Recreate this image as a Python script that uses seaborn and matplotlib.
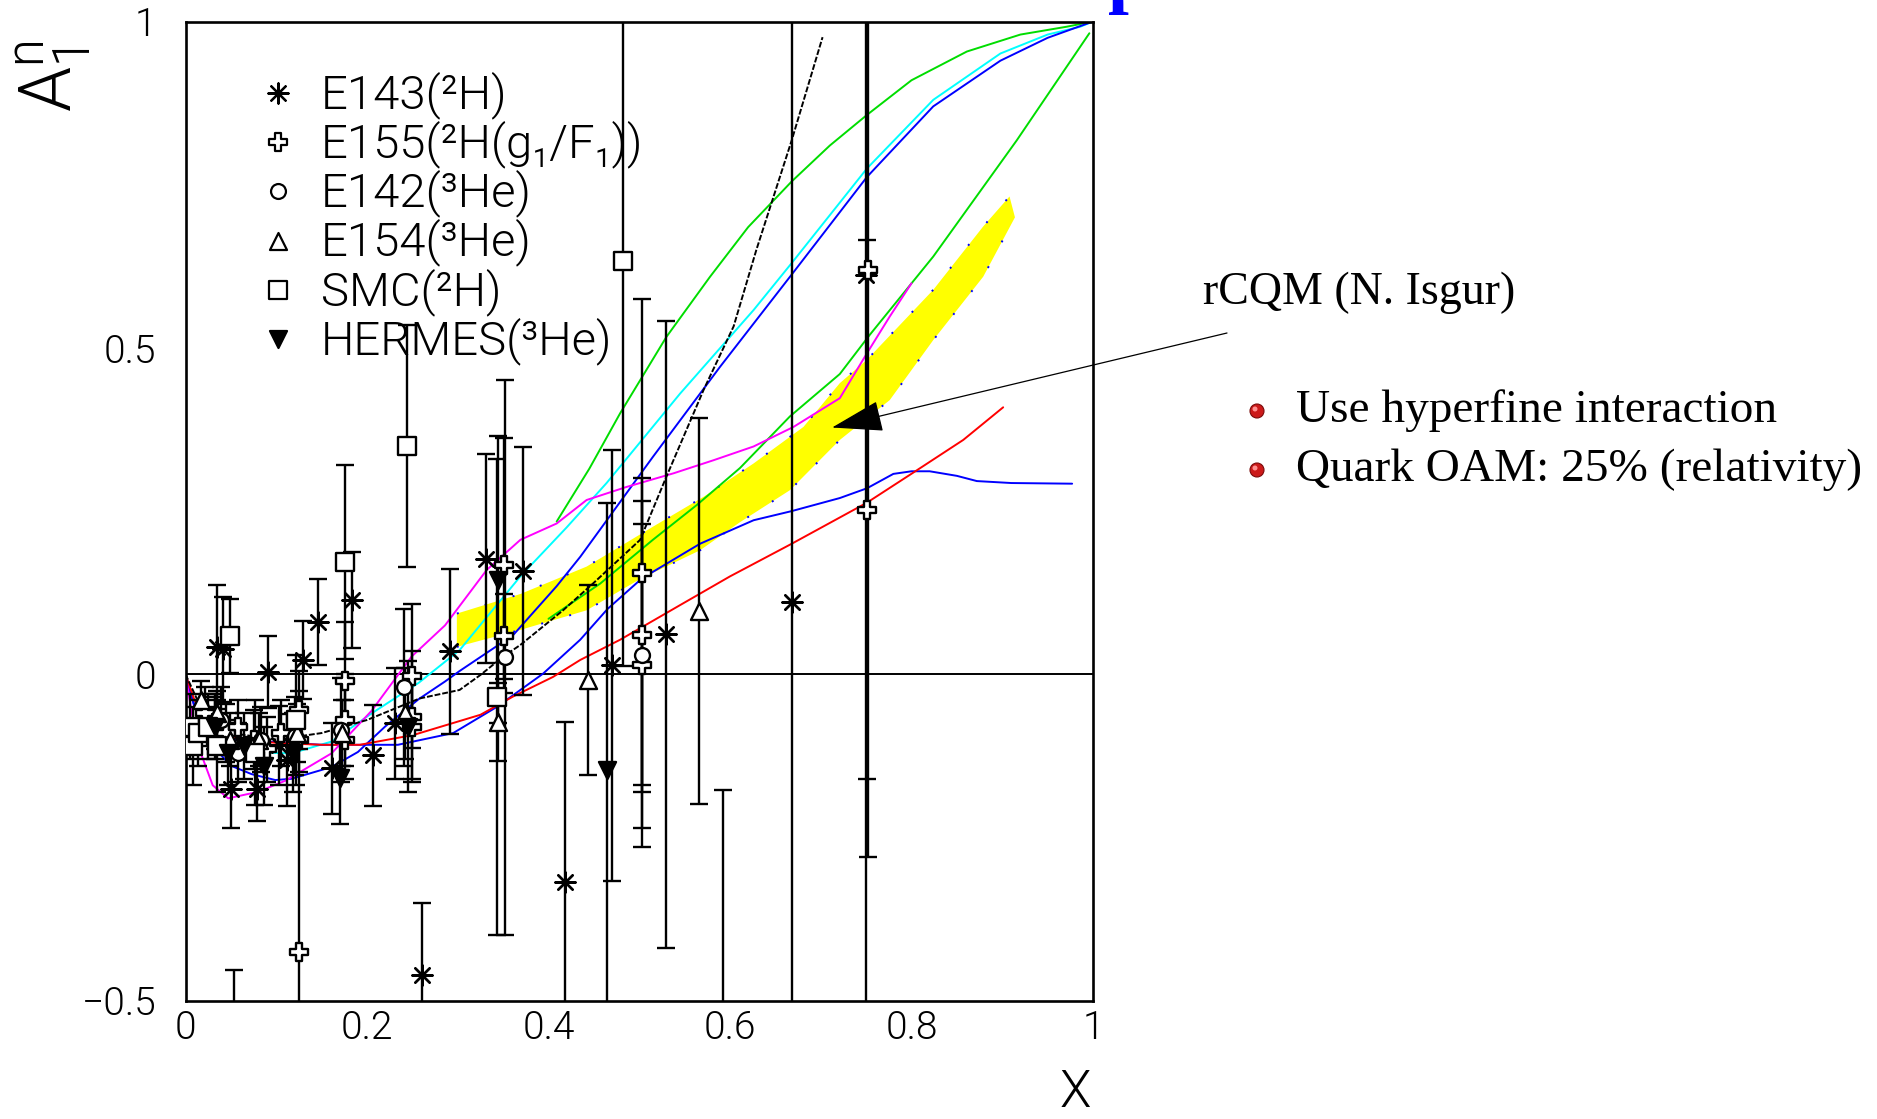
import numpy as np
import matplotlib
matplotlib.use("Agg")
import matplotlib.pyplot as plt
from matplotlib import font_manager
from matplotlib.font_manager import FontProperties
from matplotlib.patches import Ellipse
from matplotlib.ticker import MultipleLocator, FuncFormatter
import seaborn as sns

# ---------------------------------------------------------------- data
# E143 (2H)
e143_x = [0.035, 0.041, 0.050, 0.079, 0.091, 0.103, 0.112, 0.130, 0.146, 0.161, 0.184, 0.207,
          0.231, 0.261, 0.291, 0.331, 0.372, 0.418, 0.470, 0.529, 0.592, 0.668, 0.7495]
e143_y = [0.042, 0.038, -0.175, -0.175, 0.003, -0.109, -0.131, 0.022, 0.080, -0.144, 0.114, -0.124,
          -0.075, -0.461, 0.035, 0.177, 0.158, -0.318, 0.014, 0.061, -0.75, 0.111, 0.612]
e143_e = [0.095, 0.08, 0.06, 0.05, 0.055, 0.06, 0.07, 0.06, 0.066, 0.07, 0.074, 0.077,
          0.085, 0.11, 0.127, 0.16, 0.19, 0.245, 0.33, 0.48, 0.573, 1.5, 1.2]

# E155 (2H, g1/F1)
e155_x = [0.022, 0.032, 0.045, 0.053, 0.058, 0.075, 0.090, 0.105, 0.125, 0.125, 0.125, 0.176, 0.176,
          0.176, 0.250, 0.250, 0.250, 0.351, 0.351, 0.503, 0.503, 0.503, 0.751, 0.7525]
e155_y = [-0.06, -0.075, -0.09, -0.62, -0.08, -0.10, -0.115, -0.09, -0.425, -0.055, -0.10, -0.01, -0.07,
          -0.10, -0.003, -0.065, -0.08, 0.167, 0.058, 0.155, 0.06, 0.015, 0.252, 0.62]
e155_e = [0.04, 0.04, 0.045, 0.167, 0.04, 0.045, 0.05, 0.05, 0.40, 0.06, 0.05, 0.09, 0.07,
          0.06, 0.11, 0.10, 0.08, 0.195, 0.065, 0.42, 0.24, 0.25, 0.413, 0.9]

# E142 (3He)
e142_x = [0.039, 0.058, 0.083, 0.121, 0.171, 0.241, 0.352, 0.503]
e142_y = [-0.07, -0.12, -0.10, -0.095, -0.085, -0.02, 0.026, 0.03]
e142_e = [0.05, 0.045, 0.05, 0.06, 0.08, 0.12, 0.425, 0.20]

# E154 (3He)
e154_x = [0.017, 0.024, 0.035, 0.049, 0.081, 0.123, 0.173, 0.242, 0.344, 0.443, 0.566]
e154_y = [-0.04, -0.08, -0.06, -0.10, -0.10, -0.09, -0.09, -0.06, -0.073, -0.009, 0.097]
e154_e = [0.03, 0.03, 0.035, 0.04, 0.04, 0.045, 0.05, 0.07, 0.06, 0.146, 0.295]

# SMC (2H)
smc_x = [0.005, 0.008, 0.014, 0.025, 0.035, 0.049, 0.077, 0.122, 0.176, 0.244, 0.343, 0.482]
smc_y = [-0.08, -0.11, -0.09, -0.08, -0.11, 0.059, -0.12, -0.07, 0.172, 0.35, -0.035, 0.633]
smc_e = [0.05, 0.06, 0.05, 0.05, 0.07, 0.057, 0.08, 0.10, 0.148, 0.185, 0.365, 0.62]

# HERMES (3He)
hermes_x = [0.033, 0.047, 0.065, 0.087, 0.119, 0.170, 0.245, 0.344, 0.464]
hermes_y = [-0.08, -0.12, -0.11, -0.14, -0.12, -0.159, -0.08, 0.145, -0.147]
hermes_e = [0.05, 0.05, 0.05, 0.06, 0.06, 0.07, 0.10, 0.22, 0.41]

# model curves
green_hi_x = [0.409, 0.445, 0.479, 0.530, 0.578, 0.620, 0.668, 0.710, 0.751, 0.800, 0.861, 0.920, 0.971, 1.0]
green_hi_y = [0.234, 0.315, 0.400, 0.517, 0.609, 0.685, 0.755, 0.810, 0.857, 0.910, 0.954, 0.980, 0.992, 1.0]
green_lo_x = [0.400, 0.457, 0.515, 0.564, 0.611, 0.666, 0.721, 0.754, 0.824, 0.916, 0.996]
green_lo_y = [0.085, 0.139, 0.206, 0.260, 0.316, 0.395, 0.460, 0.520, 0.640, 0.818, 0.982]
cyan_x = [0.0, 0.010, 0.025, 0.050, 0.080, 0.117, 0.161, 0.205, 0.257, 0.302, 0.369, 0.420, 0.464,
          0.545, 0.626, 0.668, 0.751, 0.824, 0.898, 0.950, 0.986, 1.0]
cyan_y = [0.0, -0.045, -0.085, -0.110, -0.120, -0.121, -0.103, -0.060, -0.013, 0.037, 0.150, 0.225, 0.293,
          0.430, 0.558, 0.630, 0.775, 0.880, 0.951, 0.980, 0.992, 1.0]
blue_hi_x = [0.0, 0.010, 0.030, 0.050, 0.073, 0.099, 0.117, 0.161, 0.190, 0.220, 0.257, 0.286, 0.302,
             0.361, 0.409, 0.435, 0.515, 0.589, 0.670, 0.751, 0.824, 0.898, 0.950, 1.0]
blue_hi_y = [0.0, -0.050, -0.110, -0.140, -0.153, -0.162, -0.160, -0.142, -0.119, -0.080, -0.038, -0.011,
             0.005, 0.060, 0.135, 0.180, 0.333, 0.471, 0.616, 0.762, 0.870, 0.940, 0.975, 1.0]
blue_lo_x = [0.0, 0.010, 0.030, 0.044, 0.090, 0.150, 0.234, 0.295, 0.343, 0.394, 0.435, 0.465, 0.503,
             0.567, 0.626, 0.668, 0.721, 0.751, 0.780, 0.800, 0.820, 0.850, 0.872, 0.910, 0.977]
blue_lo_y = [0.0, -0.050, -0.090, -0.100, -0.103, -0.108, -0.108, -0.090, -0.050, 0.001, 0.053, 0.100,
             0.147, 0.200, 0.236, 0.250, 0.270, 0.285, 0.307, 0.311, 0.311, 0.304, 0.296, 0.293, 0.292]
red_x = [0.0, 0.010, 0.030, 0.060, 0.100, 0.150, 0.192, 0.251, 0.325, 0.361, 0.405, 0.435, 0.479,
         0.545, 0.600, 0.668, 0.751, 0.802, 0.857, 0.901]
red_y = [0.0, -0.040, -0.080, -0.100, -0.105, -0.108, -0.108, -0.093, -0.062, -0.034, -0.004, 0.022, 0.053,
         0.106, 0.150, 0.200, 0.263, 0.309, 0.359, 0.409]
magenta_x = [0.0, 0.007, 0.014, 0.030, 0.047, 0.080, 0.110, 0.161, 0.205, 0.249, 0.286, 0.332, 0.369,
             0.409, 0.442, 0.486, 0.538, 0.582, 0.626, 0.670, 0.721, 0.751, 0.776, 0.800]
magenta_y = [0.0, -0.060, -0.110, -0.170, -0.190, -0.180, -0.163, -0.121, -0.056, 0.027, 0.075, 0.160, 0.206,
             0.231, 0.267, 0.287, 0.308, 0.328, 0.349, 0.379, 0.423, 0.492, 0.548, 0.599]
black_x = [0.0, 0.020, 0.050, 0.100, 0.150, 0.200, 0.258, 0.302, 0.325, 0.350, 0.369, 0.416, 0.449,
           0.501, 0.530, 0.571, 0.604, 0.629, 0.668, 0.702]
black_y = [0.0, -0.060, -0.090, -0.100, -0.090, -0.070, -0.037, -0.024, -0.001, 0.027, 0.045, 0.098, 0.139,
           0.206, 0.303, 0.436, 0.533, 0.650, 0.818, 0.976]

# rCQM band (upper and lower edges)
band_hi_x = [0.299, 0.369, 0.442, 0.515, 0.571, 0.626, 0.681, 0.721, 0.751, 0.824, 0.879, 0.908]
band_hi_y = [0.093, 0.123, 0.165, 0.226, 0.272, 0.323, 0.379, 0.446, 0.482, 0.589, 0.686, 0.732]
band_lo_x = [0.299, 0.369, 0.442, 0.501, 0.567, 0.611, 0.666, 0.721, 0.776, 0.824, 0.879, 0.914]
band_lo_y = [0.042, 0.068, 0.098, 0.146, 0.190, 0.233, 0.282, 0.359, 0.420, 0.512, 0.609, 0.700]

x_ticks = [0, 0.2, 0.4, 0.6, 0.8, 1]
y_ticks = [-0.5, 0, 0.5, 1]

key_labels = ["E143(²H)", "E155(²H(g₁/F₁))", "E142(³He)",
              "E154(³He)", "SMC(²H)", "HERMES(³He)"]

# ---------------------------------------------------------------- style
sns.set_theme(style="white")


def light_face(prefs):
    """First preferred family that ships a light weight, else plain Liberation Sans."""
    for fam in prefs:
        for f in font_manager.fontManager.ttflist:
            w = f.weight if isinstance(f.weight, int) else {"light": 300, "extra light": 200,
                                                              "ultralight": 200}.get(str(f.weight), 400)
            if f.name == fam and 200 <= w <= 300 and f.style == "normal":
                return fam, 300
    return "Liberation Sans", "normal"


thin_family, thin_weight = light_face(["Roboto", "Open Sans", "Lato", "Inter", "Noto Sans"])
plt.rcParams["font.family"] = [thin_family, "DejaVu Sans"]
plt.rcParams["font.weight"] = thin_weight
plt.rcParams["mathtext.fontset"] = "custom"
plt.rcParams["mathtext.rm"] = f"{thin_family}:weight={thin_weight}"
plt.rcParams["mathtext.it"] = f"{thin_family}:weight={thin_weight}"
plt.rcParams["axes.unicode_minus"] = True

W, H = 1877, 1119
fig = plt.figure(figsize=(W / 100, H / 100), dpi=100)
ax = fig.add_axes([185.5 / W, 1 - 1000.7 / H, 907.5 / W, 979.2 / H])
ax.set_facecolor("white")
ax.set_xlim(0, 1)
ax.set_ylim(-0.5, 1)

# band
ax.fill(np.concatenate([band_hi_x, band_lo_x[::-1]]),
        np.concatenate([band_hi_y, band_lo_y[::-1]]),
        color="#ffff00", lw=0, zorder=1)
for bx, by in ((band_hi_x, band_hi_y), (band_lo_x, band_lo_y)):
    ax.plot(bx, by, color="#0000ff", lw=1.4, ls=(0, (1, 14)), zorder=1.1)

ax.axhline(0, color="black", lw=1.4, zorder=1.5)

curves = [
    (green_hi_x, green_hi_y, "#00dd00", "-"),
    (green_lo_x, green_lo_y, "#00dd00", "-"),
    (cyan_x, cyan_y, "#00ffff", "-"),
    (blue_hi_x, blue_hi_y, "#0000ff", "-"),
    (blue_lo_x, blue_lo_y, "#0000ff", "-"),
    (red_x, red_y, "#ff0000", "-"),
    (magenta_x, magenta_y, "#ff00ff", "-"),
    (black_x, black_y, "black", (0, (3, 1))),
]
for cx, cy, col, ls in curves:
    sns.lineplot(x=cx, y=cy, ax=ax, color=col, lw=1.4, linestyle=ls,
                 sort=False, estimator=None, zorder=2)

sets = [
    (e143_x, e143_y, e143_e, (8, 2, 0), "black", 210),
    (e155_x, e155_y, e155_e, "P", "white", 170),
    (e142_x, e142_y, e142_e, "o", "white", 115),
    (e154_x, e154_y, e154_e, "^", "white", 150),
    (smc_x, smc_y, smc_e, "s", "white", 150),
    (hermes_x, hermes_y, hermes_e, "v", "black", 150),
]
for sx, sy, se, mk, fc, size in sets:
    ax.errorbar(sx, sy, yerr=se, fmt="none", ecolor="black", elinewidth=1.7,
                capsize=6.5, capthick=1.7, zorder=3)
    sns.scatterplot(x=sx, y=sy, ax=ax, marker=mk, s=size, facecolor=fc,
                    edgecolor="black", linewidth=1.7, zorder=4)

# key: symbols in a column, labels as one multi-line block with matching row pitch
row_px = 49.2
first_row_px = 93.0
key_fs = 34
for i, (sx, sy, se, mk, fc, size) in enumerate(sets):
    yk = 1 - (first_row_px + i * row_px) / H
    ax.scatter([278 / W], [yk], transform=fig.transFigure, marker=mk, s=size,
               facecolor=fc, edgecolor="black", linewidth=1.6, zorder=0.5, clip_on=False)

kfp = FontProperties(family=[thin_family, "DejaVu Sans"], weight=thin_weight, size=key_fs)
mid_px = first_row_px + 2.5 * row_px + 2
key_txt = ax.text(321 / W, 1 - mid_px / H, "\n".join(key_labels), transform=fig.transFigure,
                  va="center", ha="left", multialignment="left", linespacing=1.0,
                  fontproperties=kfp, color="black", zorder=0.5)
# pitch between baselines = descent of the line above + linespacing * (height - descent)
renderer = fig.canvas.get_renderer()
_, lp_h, lp_d = renderer.get_text_width_height_descent("lp", kfp, ismath=False)
_, t_h, t_d = renderer.get_text_width_height_descent(key_labels[0], kfp, ismath=False)
line_d = max(t_d, lp_d)
key_txt.set_linespacing(1.0)
h_a = key_txt.get_window_extent(renderer).height
key_txt.set_linespacing(2.0)
h_b = key_txt.get_window_extent(renderer).height
pitch_per_unit = (h_b - h_a) / (len(key_labels) - 1)
key_txt.set_linespacing((row_px - line_d) / pitch_per_unit)

# axes styling
for sp in ax.spines.values():
    sp.set_color("black")
    sp.set_linewidth(1.9)
ax.set_xticks(x_ticks)
ax.set_yticks(y_ticks)
ax.xaxis.set_minor_locator(MultipleLocator(0.05))
ax.yaxis.set_minor_locator(MultipleLocator(0.1))
fmt = FuncFormatter(lambda v, p: ("%g" % v).replace("-", "\u2212"))
ax.xaxis.set_major_formatter(fmt)
ax.yaxis.set_major_formatter(fmt)
ax.tick_params(which="both", direction="in", top=False, right=False, color="black", width=1.5)
ax.tick_params(which="major", length=17, labelsize=28, labelcolor="black")
ax.tick_params(which="minor", length=8.5)
ax.tick_params(axis="y", which="major", pad=21)
ax.tick_params(axis="x", which="major", pad=6)
ax.grid(False)

# axis titles
fig.text(54 / W, 1 - 112 / H, r"$\mathrm{A_1^n}$", rotation=90, ha="center", va="bottom",
         fontsize=52, color="black")
fig.text(1075 / W, 1 - 1107 / H, "X", ha="center", va="baseline", fontsize=37, color="black")

# annotation on the right
serif = "Liberation Serif"
ax.annotate("", xy=(0.7125, 0.378), xycoords="data",
            xytext=(1227 / W, 1 - 333 / H), textcoords="figure fraction",
            arrowprops=dict(arrowstyle="-|>,head_length=1.65,head_width=0.5",
                            mutation_scale=20, color="black", lw=0.9,
                            shrinkA=0, shrinkB=0),
            annotation_clip=False, zorder=6)
fig.text(1203 / W, 1 - 293 / H, "rCQM (N. Isgur)", family=serif, fontweight="normal",
         fontsize=33, ha="left", va="center", color="black")
for by, txt in ((411, "Use hyperfine interaction"), (470, "Quark OAM: 25% (relativity)")):
    fig.text(1296 / W, 1 - by / H, txt, family=serif, fontweight="normal", fontsize=34,
             ha="left", va="center", color="black")
    fig.add_artist(Ellipse((1257 / W, 1 - by / H), 14 / W, 14 / H, transform=fig.transFigure,
                           facecolor="#cc1a1a", edgecolor="#7a0a0a", lw=0.8))
    fig.add_artist(Ellipse((1255 / W, 1 - (by - 2) / H), 5 / W, 5 / H, transform=fig.transFigure,
                           facecolor="#ff9090", edgecolor="none"))

# heading running off the top edge: only the descender of its last letter shows
fig.text(1108 / W, 1 + 1 / H, "p", family=serif, fontweight="bold", fontsize=54,
         color="#0000ff", ha="left", va="baseline")

fig.savefig("out.png", dpi=100, facecolor="white")
